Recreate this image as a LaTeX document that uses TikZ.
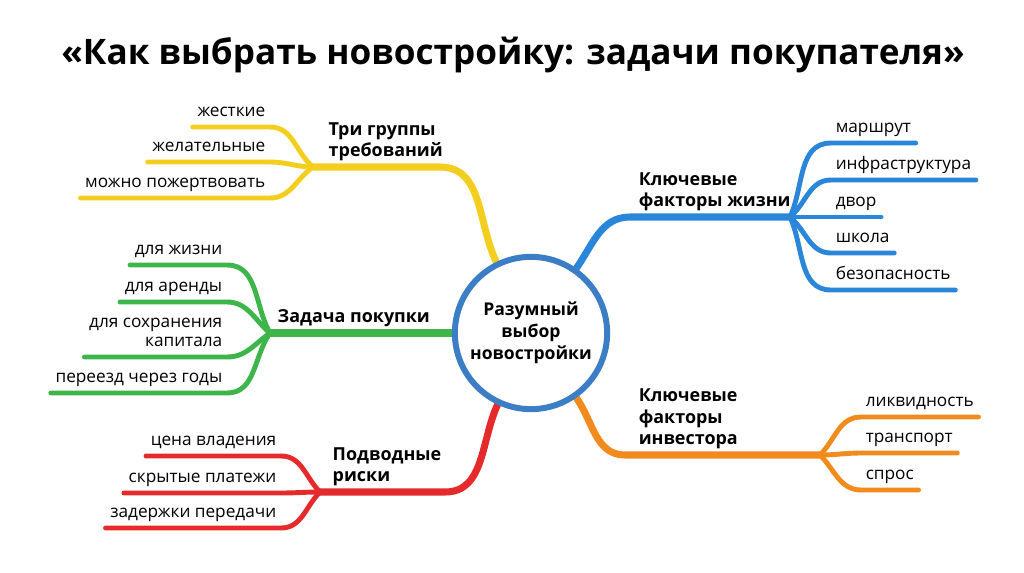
\documentclass[tikz,border=0pt]{standalone}
\usepackage{fontspec}
\setmainfont{Open Sans}
\usetikzlibrary{backgrounds}
\definecolor{mmyellow}{HTML}{F4CE1F}
\definecolor{mmgreen}{HTML}{3DB54A}
\definecolor{mmred}{HTML}{E52A2C}
\definecolor{mmblue}{HTML}{2A86D8}
\definecolor{mmring}{HTML}{3B7EC6}
\definecolor{mmorange}{HTML}{F28B1E}

\begin{document}
\begin{tikzpicture}[
    x=0.02cm, y=-0.02cm,
    title/.style={font=\fontsize{20}{24}\selectfont\bfseries},
    hub/.style={circle, draw=mmring, line width=3.4pt, fill=white, minimum size=3.04cm, align=center, font=\fontsize{10}{12.5}\selectfont\bfseries},
    topic/.style={anchor=south west, align=left, inner sep=2.5pt, text depth=0.3em, font=\fontsize{10.2}{12.5}\selectfont\bfseries},
    leafl/.style={anchor=south east, align=right, inner sep=2.5pt, text depth=0.3em, font=\fontsize{9.8}{11.3}\selectfont},
    leafr/.style={anchor=south west, align=left, inner sep=2.5pt, text depth=0.3em, font=\fontsize{9.8}{11.3}\selectfont},
    stem/.style={line width=4pt, line cap=round},
    twig/.style={line width=2.8pt, line cap=round}
]
\useasboundingbox (0,0) rectangle (1024,572);

\node[title] (head) at (513,55) {«Как выбрать новостройку: задачи покупателя»};
\node[hub] (ctr) at (531,333) {Разумный\\выбор\\новостройки};

\coordinate (yj) at (313,167);
\coordinate (yb) at (440,167);
\node[topic] (req) at (324,167) {Три группы\\требований};
\node[leafl] (hard) at (270,127) {жесткие};
\node[leafl] (wish) at (270,162) {желательные};
\node[leafl] (sacr) at (270,198) {можно пожертвовать};

\coordinate (gj) at (270,333);
\node[topic] (task) at (273,333) {Задача покупки};
\node[leafl] (life) at (227,265) {для жизни};
\node[leafl] (rent) at (227,302) {для аренды};
\node[leafl] (save) at (227,357) {для сохранения\\капитала};
\node[leafl] (move) at (227,393) {переезд через годы};

\coordinate (rj) at (320,492);
\coordinate (rb) at (445,492);
\node[topic] (risk) at (328,492) {Подводные\\риски};
\node[leafl] (price) at (281,456) {цена владения};
\node[leafl] (hidden) at (281,493) {скрытые платежи};
\node[leafl] (delay) at (281,528) {задержки передачи};

\coordinate (bj) at (790,217);
\coordinate (bb) at (630,217);
\node[topic] (life2) at (634,217) {Ключевые\\факторы жизни};
\node[leafr] (route) at (831,143) {маршрут};
\node[leafr] (infra) at (831,180) {инфраструктура};
\node[leafr] (yard) at (831,217) {двор};
\node[leafr] (school) at (831,253) {школа};
\node[leafr] (safe) at (831,290) {безопасность};

\coordinate (oj) at (820,455);
\coordinate (ob) at (625,455);
\node[topic] (inv) at (634,455) {Ключевые\\факторы\\инвестора};
\node[leafr] (liq) at (861,417) {ликвидность};
\node[leafr] (trans) at (861,453) {транспорт};
\node[leafr] (demand) at (861,490) {спрос};

\begin{scope}[on background layer]
\draw[stem, mmyellow] (ctr.116) to[out=116,in=0] (yb) -- (yj);
\draw[twig, mmyellow] (hard.south west) -- (hard.south east) to[out=0,in=140] (yj);
\draw[twig, mmyellow] (wish.south west) -- (wish.south east) to[out=0,in=180] (yj);
\draw[twig, mmyellow] (sacr.south west) -- (sacr.south east) to[out=0,in=215] (yj);

\draw[stem, mmgreen] (ctr.west) -- (gj);
\draw[twig, mmgreen] (life.south west) -- (life.south east) to[out=0,in=120] (gj);
\draw[twig, mmgreen] (rent.south west) -- (rent.south east) to[out=0,in=140] (gj);
\draw[twig, mmgreen] (save.south west) -- (save.south east) to[out=0,in=215] (gj);
\draw[twig, mmgreen] (move.south west) -- (move.south east) to[out=0,in=235] (gj);

\draw[stem, mmred] (ctr.245) to[out=245,in=0] (rb) -- (rj);
\draw[twig, mmred] (price.south west) -- (price.south east) to[out=0,in=135] (rj);
\draw[twig, mmred] (hidden.south west) -- (hidden.south east) to[out=0,in=180] (rj);
\draw[twig, mmred] (delay.south west) -- (delay.south east) to[out=0,in=225] (rj);

\draw[stem, mmblue] (ctr.55) to[out=55,in=180] (bb) -- (bj);
\draw[twig, mmblue] (bj) to[out=65,in=180] (route.south west) -- (route.south east);
\draw[twig, mmblue] (bj) to[out=40,in=180] (infra.south west) -- (infra.south east);
\draw[twig, mmblue] (bj) to[out=0,in=180] (yard.south west) -- (yard.south east);
\draw[twig, mmblue] (bj) to[out=-40,in=180] (school.south west) -- (school.south east);
\draw[twig, mmblue] (bj) to[out=-65,in=180] (safe.south west) -- (safe.south east);

\draw[stem, mmorange] (ctr.-55) to[out=-55,in=180] (ob) -- (oj);
\draw[twig, mmorange] (oj) to[out=45,in=180] (liq.south west) -- (liq.south east);
\draw[twig, mmorange] (oj) to[out=0,in=180] (trans.south west) -- (trans.south east);
\draw[twig, mmorange] (oj) to[out=-45,in=180] (demand.south west) -- (demand.south east);
\end{scope}
\end{tikzpicture}
\end{document}
